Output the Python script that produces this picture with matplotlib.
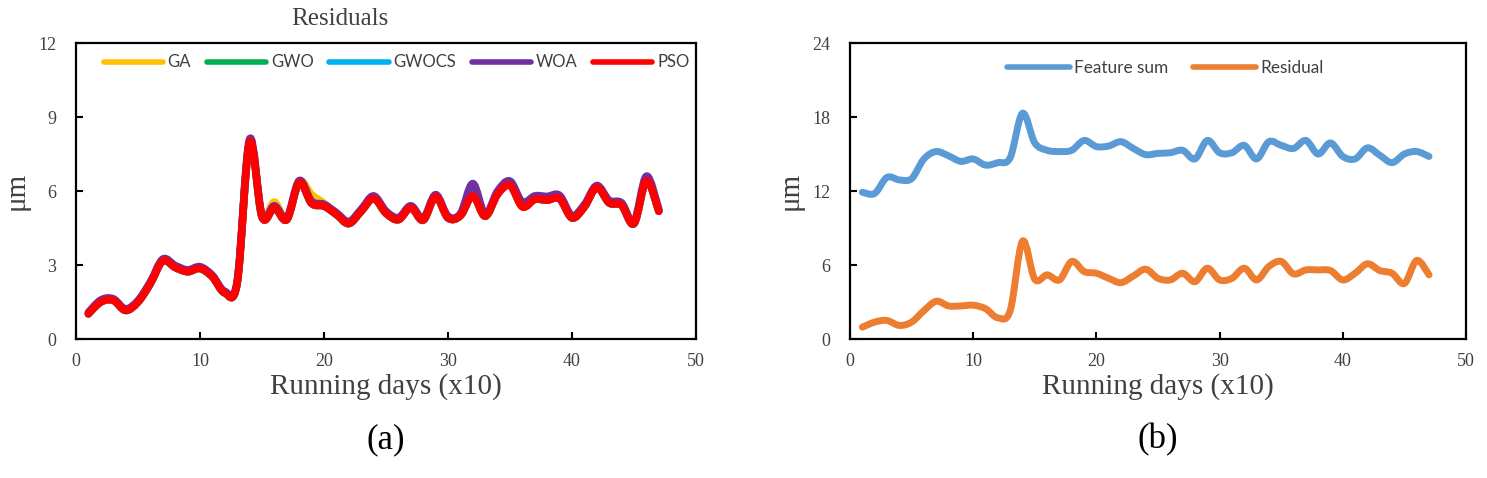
import numpy as np
import matplotlib.pyplot as plt
from matplotlib.path import Path
from matplotlib.patches import PathPatch
from matplotlib.lines import Line2D

# Messpunkte (Laufzeit in 10 Tagen)
days = list(range(1, 48))

pso = [1.02, 1.50, 1.57, 1.16, 1.50, 2.25, 3.17, 2.90, 2.73, 2.86,
       2.52, 1.87, 2.28, 7.98, 4.95, 5.32, 4.84, 6.34, 5.50, 5.39,
       5.05, 4.68, 5.18, 5.70, 5.10, 4.84, 5.32, 4.82, 5.77, 4.91,
       5.00, 5.80, 4.98, 5.87, 6.23, 5.36, 5.66, 5.63, 5.69, 4.91,
       5.36, 6.14, 5.52, 5.42, 4.68, 6.41, 5.18]
woa = [1.08, 1.58, 1.63, 1.22, 1.56, 2.32, 3.24, 2.98, 2.80, 2.93,
       2.58, 1.93, 2.34, 8.10, 5.02, 5.40, 4.92, 6.42, 5.58, 5.46,
       5.12, 4.76, 5.26, 5.80, 5.18, 4.92, 5.40, 4.90, 5.85, 4.98,
       5.08, 6.30, 5.06, 6.00, 6.40, 5.55, 5.80, 5.78, 5.82, 5.00,
       5.45, 6.22, 5.62, 5.52, 4.76, 6.60, 5.26]
ga = [1.02, 1.50, 1.57, 1.16, 1.50, 2.25, 3.17, 2.95, 2.73, 2.86,
      2.52, 1.87, 2.28, 7.98, 4.95, 5.55, 4.84, 6.38, 5.85, 5.50,
      5.05, 4.68, 5.18, 5.70, 5.10, 4.84, 5.32, 4.82, 5.77, 4.91,
      5.00, 5.80, 4.98, 5.87, 6.23, 5.36, 5.66, 5.63, 5.69, 4.91,
      5.36, 6.18, 5.52, 5.42, 4.68, 6.41, 5.18]
gwo = [1.02, 1.50, 1.57, 1.16, 1.50, 2.25, 3.17, 2.90, 2.73, 2.86,
       2.52, 1.87, 2.28, 7.98, 4.95, 5.32, 4.84, 6.34, 5.50, 5.39,
       5.05, 4.68, 5.18, 5.70, 5.10, 4.84, 5.32, 4.82, 5.77, 4.91,
       5.00, 5.85, 4.98, 5.90, 6.25, 5.40, 5.66, 5.63, 5.69, 4.91,
       5.36, 6.14, 5.52, 5.42, 4.68, 6.45, 5.18]
gwocs = [1.02, 1.50, 1.57, 1.16, 1.50, 2.25, 3.17, 2.90, 2.73, 2.86,
         2.52, 1.87, 2.28, 7.98, 4.95, 5.32, 4.84, 6.34, 5.50, 5.39,
         5.05, 4.68, 5.18, 5.70, 5.10, 4.84, 5.32, 4.82, 5.77, 4.91,
         5.00, 5.82, 4.98, 5.87, 6.23, 5.38, 5.66, 5.63, 5.69, 4.91,
         5.36, 6.14, 5.52, 5.42, 4.68, 6.43, 5.18]

feature_sum = [11.9, 11.8, 13.1, 12.9, 13.0, 14.6, 15.2, 14.85, 14.4, 14.6,
               14.1, 14.3, 14.7, 18.3, 15.9, 15.3, 15.2, 15.3, 16.1, 15.6,
               15.65, 16.0, 15.45, 14.95, 15.05, 15.1, 15.3, 14.6, 16.1, 15.1,
               15.1, 15.7, 14.6, 16.0, 15.7, 15.45, 16.1, 15.0, 15.9, 14.8,
               14.6, 15.5, 14.9, 14.3, 15.0, 15.2, 14.8]
residual = [0.96, 1.37, 1.50, 1.10, 1.37, 2.30, 3.06, 2.68, 2.68, 2.74,
            2.46, 1.72, 2.30, 7.93, 4.84, 5.20, 4.79, 6.29, 5.47, 5.33,
            4.92, 4.57, 5.11, 5.66, 4.92, 4.79, 5.33, 4.65, 5.74, 4.79,
            4.92, 5.74, 4.79, 5.88, 6.29, 5.28, 5.60, 5.60, 5.55, 4.79,
            5.33, 6.10, 5.55, 5.33, 4.50, 6.37, 5.20]

serif = 'Liberation Serif'
sans = 'Lato'
txt_col = '#404040'


def smooth_line(ax, x, y, color, lw, z):
    # geglaettete Linie wie in Excel (Bezier durch alle Punkte)
    p = np.column_stack([x, y]).astype(float)
    verts = [p[0]]
    codes = [Path.MOVETO]
    n = len(p)
    for i in range(n - 1):
        p0 = p[i - 1] if i > 0 else p[i]
        p3 = p[i + 2] if i + 2 < n else p[i + 1]
        c1 = p[i] + (p[i + 1] - p0) / 6
        c2 = p[i + 1] - (p3 - p[i]) / 6
        verts += [c1, c2, p[i + 1]]
        codes += [Path.CURVE4] * 3
    patch = PathPatch(Path(verts, codes), fill=False, edgecolor=color, lw=lw,
                      capstyle='round', joinstyle='round', zorder=z)
    ax.add_patch(patch)


def style_axes(ax, ymax):
    ax.set_xlim(0, 50)
    ax.set_ylim(0, ymax)
    ax.set_xticks([0, 10, 20, 30, 40, 50])
    ax.set_yticks(np.linspace(0, ymax, 5))
    ax.tick_params(direction='in', length=5, width=1.5, colors='black',
                   labelcolor=txt_col, labelsize=13)
    ax.tick_params(axis='x', pad=10)
    ax.tick_params(axis='y', pad=14)
    for lab in ax.get_xticklabels() + ax.get_yticklabels():
        lab.set_fontfamily(serif)
    for s in ax.spines.values():
        s.set_linewidth(1.6)
    ax.set_xlabel('Running days (x10)', fontfamily=serif, fontsize=21,
                  color=txt_col, labelpad=2)
    ax.set_ylabel('\u03bcm', fontfamily=serif, fontsize=21, color=txt_col,
                  labelpad=6)


fig = plt.figure(figsize=(14.87, 4.78), dpi=100)
ax1 = fig.add_axes([76 / 1487, 139 / 478, 620 / 1487, 296 / 478])
ax2 = fig.add_axes([850 / 1487, 139 / 478, 616 / 1487, 296 / 478])

# (a) Residuen der Optimierer
series = [('GA', ga, '#FFC000'), ('GWO', gwo, '#00B050'),
          ('GWOCS', gwocs, '#00B0F0'), ('WOA', woa, '#7030A0'),
          ('PSO', pso, '#FF0000')]
handles = []
for k, (name, vals, col) in enumerate(series):
    smooth_line(ax1, days, vals, col, 5.5, 2 + k)
    handles.append(Line2D([], [], color=col, lw=4, solid_capstyle='round'))
style_axes(ax1, 12)
ax1.legend(handles, [s[0] for s in series], loc='upper center',
           bbox_to_anchor=(0.517, 1.012), ncol=5, frameon=False,
           prop={'family': sans, 'size': 12}, handlelength=3.55,
           handletextpad=0.28, columnspacing=0.95, labelcolor=txt_col)
fig.text(340 / 1487, 1 - 19 / 478, 'Residuals', fontfamily=serif,
         fontsize=18, color=txt_col, ha='center', va='center')

# (b) Merkmalssumme und Residuum
smooth_line(ax2, days, feature_sum, '#5B9BD5', 5, 3)
smooth_line(ax2, days, residual, '#ED7D31', 5, 3)
style_axes(ax2, 24)
h2 = [Line2D([], [], color='#5B9BD5', lw=4, solid_capstyle='round'),
      Line2D([], [], color='#ED7D31', lw=4, solid_capstyle='round')]
ax2.legend(h2, ['Feature sum', 'Residual'], loc='upper center',
           bbox_to_anchor=(0.512, 0.995), ncol=2, frameon=False,
           prop={'family': sans, 'size': 12.4}, handlelength=3.65,
           handletextpad=0.23, columnspacing=1.45, labelcolor=txt_col)

fig.text(386 / 1487, 1 - 440 / 478, '(a)', fontfamily=serif, fontsize=25,
         color='black', ha='center', va='center')
fig.text(1158 / 1487, 1 - 440 / 478, '(b)', fontfamily=serif, fontsize=25,
         color='black', ha='center', va='center')

fig.savefig('out.png', dpi=100)
